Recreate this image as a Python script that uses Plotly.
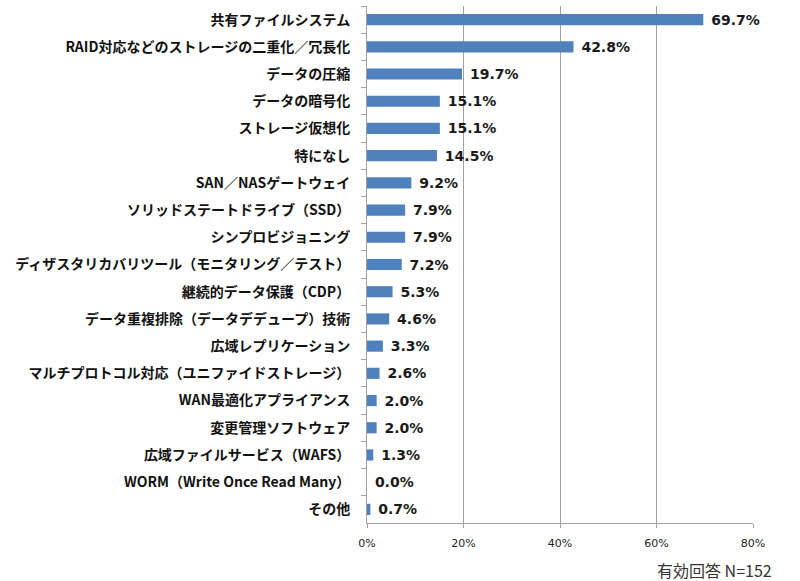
import plotly.graph_objects as go

categories = [
    "共有ファイルシステム",
    "RAID対応などのストレージの二重化／冗長化",
    "データの圧縮",
    "データの暗号化",
    "ストレージ仮想化",
    "特になし",
    "SAN／NASゲートウェイ",
    "ソリッドステートドライブ（SSD）",
    "シンプロビジョニング",
    "ディザスタリカバリツール（モニタリング／テスト）",
    "継続的データ保護（CDP）",
    "データ重複排除（データデデュープ）技術",
    "広域レプリケーション",
    "マルチプロトコル対応（ユニファイドストレージ）",
    "WAN最適化アプライアンス",
    "変更管理ソフトウェア",
    "広域ファイルサービス（WAFS）",
    "WORM（Write Once Read Many）",
    "その他",
]
values = [69.7, 42.8, 19.7, 15.1, 15.1, 14.5, 9.2, 7.9, 7.9, 7.2, 5.3, 4.6, 3.3, 2.6, 2.0, 2.0, 1.3, 0.0, 0.7]
tick_vals = [0, 20, 40, 60, 80]
tick_text = ["0%", "20%", "40%", "60%", "80%"]
note = "有効回答 N=152"

FONT = "Noto Sans CJK JP"
GRAY = "#A0A0A0"

fig = go.Figure(go.Bar(
    y=categories,
    x=values,
    orientation="h",
    marker=dict(color="#4F81BD", line=dict(width=0)),
    text=[f"<b> {v:.1f}%</b>" for v in values],
    textposition="outside",
    constraintext="none",
    cliponaxis=False,
    textfont=dict(family="DejaVu Sans", size=14, color="#1a1a1a"),
    width=0.41,
))

fig.update_layout(
    width=800, height=581,
    margin=dict(l=367, r=47, t=6, b=58),
    plot_bgcolor="white",
    paper_bgcolor="white",
    showlegend=False,
    font=dict(family=FONT),
    xaxis=dict(
        range=[0, 80],
        tickvals=tick_vals,
        ticktext=tick_text,
        showgrid=True,
        gridcolor=GRAY,
        gridwidth=1,
        showline=True,
        linecolor=GRAY,
        ticks="outside",
        ticklen=4,
        tickcolor=GRAY,
        ticklabelstandoff=6,
        tickfont=dict(family="DejaVu Sans", size=11, color="#222222"),
        zeroline=False,
        fixedrange=True,
    ),
    yaxis=dict(
        autorange="reversed",
        type="category",
        showline=True,
        linecolor=GRAY,
        ticks="outside",
        ticklen=5,
        tickcolor=GRAY,
        tickson="boundaries",
        ticklabelstandoff=13,
        tickfont=dict(family=FONT, size=14, color="#111111", weight="bold"),
        showgrid=False,
        fixedrange=True,
    ),
    annotations=[dict(
        text=note, xref="paper", yref="paper", x=1.052, y=-0.090,
        xanchor="right", yanchor="middle", showarrow=False, borderpad=0,
        font=dict(family=FONT, size=16, color="#333333"),
    )],
)

fig.write_html(
    "out.html",
    config={"displayModeBar": False},
    post_script="document.body.style.margin='0';",
)
